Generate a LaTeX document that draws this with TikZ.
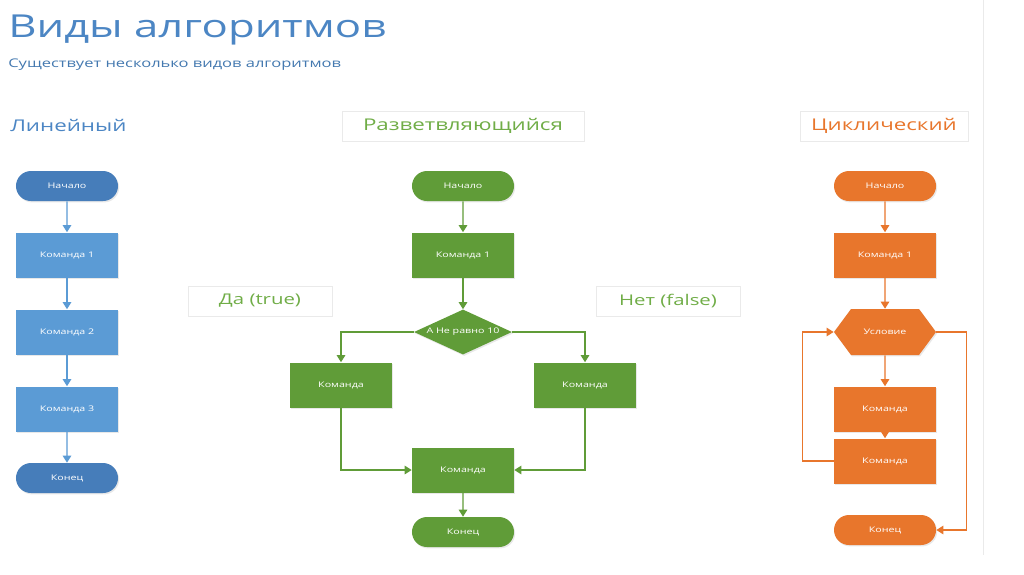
\documentclass[tikz,border=0pt]{standalone}
\usepackage{fontspec}
\setmainfont{Open Sans}[FakeStretch=1.38]
\usepackage{xcolor}
\definecolor{sky}{RGB}{91,155,213}
\definecolor{skydark}{RGB}{70,125,186}
\definecolor{ink}{RGB}{76,134,196}
\definecolor{leaf}{RGB}{96,156,56}
\definecolor{leaflite}{RGB}{112,173,71}
\definecolor{rust}{RGB}{232,118,44}
\definecolor{frame}{RGB}{234,234,234}
\usetikzlibrary{arrows.meta,shapes.geometric,shapes.misc,shapes.symbols,shadows}

\begin{document}
\begin{tikzpicture}[x=0.025cm,y=-0.025cm,
  hbox/.style={draw=frame,line width=0.6pt,minimum height=0.75cm,
              inner sep=0pt,font=\fontsize{11.5}{14}\selectfont},
  shd/.style={drop shadow={opacity=0.18,shadow xshift=0.8pt,shadow yshift=-1pt}},
  blk/.style={rectangle,fill=#1,text=white,minimum width=2.55cm,shd,
              minimum height=1.125cm,inner sep=0pt,font=\fontsize{5.5}{6}\selectfont},
  trm/.style={rounded rectangle,fill=#1,text=white,minimum width=2.55cm,shd,
              minimum height=0.75cm,inner sep=0pt,font=\fontsize{5.5}{6}\selectfont},
  arr/.style={draw=#1,line width=1pt,-{Triangle[width=6pt,length=5pt]}},
]
  \useasboundingbox[fill=white] (0,0) rectangle (1024,574);
  \draw[frame] (983,0) -- (983,555);

  \node[anchor=base west,text=ink,font=\fontsize{22.5}{26}\selectfont,inner sep=0pt] (title) at (8,37) {Виды алгоритмов};
  \node[anchor=base west,text=ink!90!black,font=\fontsize{8.5}{10}\selectfont,inner sep=0pt] (sub) at (8,67) {Существует несколько видов алгоритмов};

  %% Линейный
  \node[anchor=base west,text=ink,font=\fontsize{11.5}{14}\selectfont,inner sep=0pt] (hlin) at (10,131) {Линейный};
  \node[trm=skydark] (s1) at (67,186) {Начало};
  \node[blk=sky] (c1) at (67,255) {Команда 1};
  \node[blk=sky] (c2) at (67,332) {Команда 2};
  \node[blk=sky] (c3) at (67,409) {Команда 3};
  \node[trm=skydark] (e1) at (67,478) {Конец};
  \draw[arr=sky] (s1) -- (c1);
  \draw[arr=sky] (c1) -- (c2);
  \draw[arr=sky] (c2) -- (c3);
  \draw[arr=sky] (c3) -- (e1);

  %% Разветвляющийся
  \node[hbox,text=leaflite,minimum width=6.05cm] (hbr) at (463,126) {Разветвляющийся};
  \node[hbox,text=leaflite,minimum width=3.6cm,font=\fontsize{10.5}{13}\selectfont] (yes) at (260,301) {Да (true)};
  \node[hbox,text=leaflite,minimum width=3.6cm,font=\fontsize{10.5}{13}\selectfont] (no) at (668,301) {Нет (false)};
  \node[trm=leaf] (s2) at (463,186) {Начало};
  \node[blk=leaf] (k2) at (463,255) {Команда 1};
  \node[diamond,aspect=2.2,fill=leaf,text=white,inner sep=0pt,minimum width=2.45cm,shd,
        minimum height=1.125cm,font=\fontsize{5.5}{6}\selectfont] (d2) at (463,332) {А Не равно 10};
  \node[blk=leaf] (l2) at (341,385) {Команда};
  \node[blk=leaf] (r2) at (585,385) {Команда};
  \node[blk=leaf] (m2) at (463,470) {Команда};
  \node[trm=leaf] (e2) at (463,532) {Конец};
  \draw[arr=leaf] (s2) -- (k2);
  \draw[arr=leaf] (k2) -- (d2);
  \draw[arr=leaf] (d2.west) -| (l2);
  \draw[arr=leaf] (d2.east) -| (r2);
  \draw[arr=leaf] (l2) |- (m2);
  \draw[arr=leaf] (r2) |- (m2);
  \draw[arr=leaf] (m2) -- (e2);

  %% Циклический
  \node[hbox,text=rust,minimum width=4.2cm] (hcy) at (884,126) {Циклический};
  \node[trm=rust] (s3) at (885,186) {Начало};
  \node[blk=rust] (k3) at (885,255) {Команда 1};
  \node[signal,signal to=west and east,signal pointer angle=107,fill=rust,text=white,
        inner sep=0pt,minimum width=2.55cm,minimum height=1.15cm,shd,
        font=\fontsize{5.5}{6}\selectfont] (h3) at (885,332) {Условие};
  \node[blk=rust] (u3) at (885,409) {Команда};
  \node[blk=rust] (w3) at (885,461) {Команда};
  \node[trm=rust] (e3) at (885,530) {Конец};
  \draw[arr=rust] (s3) -- (k3);
  \draw[arr=rust] (k3) -- (h3);
  \draw[arr=rust] (h3) -- (u3);
  \draw[arr=rust] (u3) -- (w3);
  \draw[arr=rust] (w3.west) -- ++(-31,0) |- (h3.west);
  \draw[arr=rust] (h3.east) -- ++(30,0) |- (e3.east);
\end{tikzpicture}
\end{document}
